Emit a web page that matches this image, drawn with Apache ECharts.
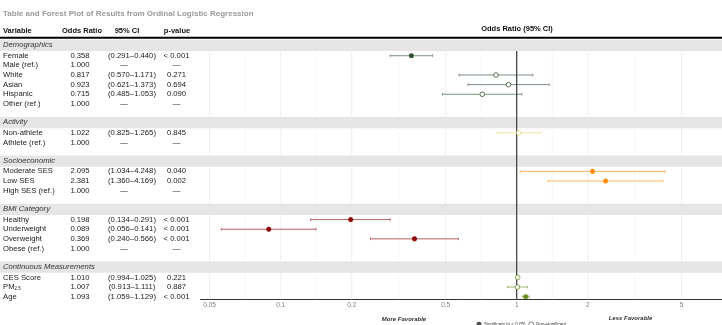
<!DOCTYPE html>
<html>
<head>
<meta charset="utf-8">
<title>Forest plot</title>
<script src="https://cdn.jsdelivr.net/npm/echarts@6/dist/echarts.min.js"></script>
<style>
  html, body { margin: 0; padding: 0; background: #fff; }
  #chart { width: 722px; height: 325px; }
</style>
</head>
<body>
<div id="chart"></div>
<script>
const groups = ['Demographics', 'Activity', 'Socioeconomic', 'BMI Category', 'Continuous Measurements']
const groupColors = ['#2F4F2F', '#E6D76E', '#FF8C00', '#8B0000', '#6B8E23']

const variables = ['Female', 'Male (ref.)', 'White', 'Asian', 'Hispanic', 'Other (ref.)',
  'Non-athlete', 'Athlete (ref.)',
  'Moderate SES', 'Low SES', 'High SES (ref.)',
  'Healthy', 'Underweight', 'Overweight', 'Obese (ref.)',
  'CES Score', 'PM2.5', 'Age']
const groupOf = [0, 0, 0, 0, 0, 0, 1, 1, 2, 2, 2, 3, 3, 3, 3, 4, 4, 4]
const oddsRatio = [0.358, 1.000, 0.817, 0.923, 0.715, 1.000, 1.022, 1.000, 2.095, 2.381, 1.000,
  0.198, 0.089, 0.369, 1.000, 1.010, 1.007, 1.093]
const ciLow = [0.291, null, 0.570, 0.621, 0.485, null, 0.825, null, 1.034, 1.360, null,
  0.134, 0.056, 0.240, null, 0.994, 0.913, 1.059]
const ciHigh = [0.440, null, 1.171, 1.373, 1.053, null, 1.265, null, 4.248, 4.169, null,
  0.291, 0.141, 0.566, null, 1.025, 1.111, 1.129]
const pValues = ['< 0.001', '—', '0.271', '0.694', '0.090', '—', '0.845', '—', '0.040', '0.002', '—',
  '< 0.001', '< 0.001', '< 0.001', '—', '0.221', '0.887', '< 0.001']

const tickValues = [0.05, 0.1, 0.2, 0.5, 1, 2, 5]
const minorValues = [0.0707, 0.1414, 0.3162, 0.7071, 1.4142, 3.1623]
const referenceOR = 1

const fontFamily = '"Liberation Sans", Arial, Helvetica, sans-serif'

function rgba(hex, a) {
  const n = parseInt(hex.slice(1), 16)
  return `rgba(${n >> 16},${(n >> 8) & 255},${n & 255},${a})`
}

// row index of each band / variable: band, items, blank spacer
const rowOf = []
const bandRows = []
let r = 0
groups.forEach((g, gi) => {
  bandRows.push(r++)
  groupOf.forEach((gg, vi) => { if (gg === gi) rowOf[vi] = r++ })
  r++
})

const ciText = i => ciLow[i] == null ? '—' : `(${ciLow[i].toFixed(3)}–${ciHigh[i].toFixed(3)})`

const barData = []
variables.forEach((v, i) => {
  if (ciLow[i] == null) return
  const sig = ciLow[i] > 1 || ciHigh[i] < 1 ? 1 : 0
  barData.push([ciLow[i], ciHigh[i], oddsRatio[i], rowOf[i], groupOf[i], sig])
})

const chart = echarts.init(document.getElementById('chart'), null, { renderer: 'canvas' })

const textBase = { fill: '#1a1a1a', fontSize: 7.7, fontFamily: fontFamily, verticalAlign: 'middle' }
const headStyle = { fontSize: 7.5, fontWeight: 'bold', fontFamily: fontFamily, fill: '#111', align: 'center', verticalAlign: 'middle' }
const sideStyle = { fontSize: 6, fontWeight: 'bold', fontStyle: 'italic', fontFamily: fontFamily, fill: '#333', align: 'center', verticalAlign: 'middle' }

const option = {
  animation: false,
  backgroundColor: '#fff',
  title: {
    text: 'Table and Forest Plot of Results from Ordinal Logistic Regression',
    left: 3, top: 9.5, padding: 0,
    textStyle: { fontSize: 8, fontWeight: 'bold', color: '#9a9a9a', fontFamily: fontFamily }
  },
  legend: {
    left: 471.5, top: 316.5,
    itemWidth: 5, itemHeight: 5, itemGap: 3,
    selectedMode: false,
    textStyle: { fontSize: 4.5, color: '#333', fontFamily: fontFamily, padding: [0, 0, 0, -2.5] },
    data: [
      { name: 'Significant (p < 0.05)', icon: 'circle', itemStyle: { color: '#222', borderWidth: 0 } },
      { name: 'Non-significant', icon: 'circle', itemStyle: { color: '#fff', borderColor: '#222', borderWidth: 0.7 } }
    ]
  },
  grid: [
    { left: 0, right: 0, top: 26.78, height: 279.56 },
    { left: 200.5, right: 0, top: 51, height: 248.3 }
  ],
  xAxis: [
    { type: 'value', gridIndex: 0, min: 0, max: 722, show: false },
    {
      type: 'log', logBase: 10, gridIndex: 1, min: 0.04573, max: 7.413,
      axisLine: { show: true, lineStyle: { color: '#333', width: 1 } },
      axisTick: { show: false },
      splitLine: { show: false },
      minorTick: { show: false },
      minorSplitLine: { show: false },
      axisLabel: {
        customValues: tickValues,
        formatter: v => String(+Number(v).toPrecision(3)),
        fontSize: 6.5, color: '#808080', margin: 2.5, fontFamily: fontFamily
      }
    }
  ],
  yAxis: [
    { type: 'value', gridIndex: 0, inverse: true, min: -2, max: 27, show: false },
    { type: 'value', gridIndex: 1, inverse: true, min: 0.51, max: 26.27, show: false }
  ],
  graphic: [
    { type: 'line', shape: { x1: 0, y1: 37.7, x2: 722, y2: 37.7 }, style: { stroke: '#000', lineWidth: 2 } },
    { type: 'text', x: 3, y: 31, style: Object.assign({}, headStyle, { text: 'Variable', align: 'left' }) },
    { type: 'text', x: 82, y: 31, style: Object.assign({}, headStyle, { text: 'Odds Ratio' }) },
    { type: 'text', x: 127, y: 31, style: Object.assign({}, headStyle, { text: '95% CI' }) },
    { type: 'text', x: 177, y: 31, style: Object.assign({}, headStyle, { text: 'p-value' }) },
    { type: 'text', x: 517, y: 29, style: Object.assign({}, headStyle, { text: 'Odds Ratio (95% CI)' }) },
    { type: 'text', x: 404, y: 319.5, style: Object.assign({}, sideStyle, { text: 'More Favorable' }) },
    { type: 'text', x: 630.5, y: 318.5, style: Object.assign({}, sideStyle, { text: 'Less Favorable' }) }
  ],
  series: [
    {
      // panel gridlines at major and minor breaks
      type: 'custom', xAxisIndex: 1, yAxisIndex: 1, silent: true,
      data: tickValues.map(v => [v, 1, 1]).concat(minorValues.map(v => [v, 1, 0])),
      encode: { x: 0, y: 1 },
      renderItem: (params, api) => {
        const cs = params.coordSys
        const x = api.coord([api.value(0), 1])[0]
        return {
          type: 'line',
          shape: { x1: x, y1: cs.y, x2: x, y2: cs.y + cs.height },
          style: { stroke: api.value(2) ? '#ebebeb' : '#f2f2f2', lineWidth: api.value(2) ? 0.8 : 0.6 }
        }
      }
    },
    {
      // grey group bands across table and panel
      type: 'custom', xAxisIndex: 0, yAxisIndex: 0, silent: true,
      data: bandRows.map(b => [0, b]),
      encode: { x: 0, y: 1 },
      renderItem: (params, api) => {
        const b = api.value(1)
        const p1 = api.coord([0, b - 0.65])
        const p2 = api.coord([722, b + 0.52])
        return { type: 'rect', shape: { x: p1[0], y: p1[1], width: p2[0] - p1[0], height: p2[1] - p1[1] }, style: { fill: '#e5e5e5' } }
      }
    },
    {
      // group labels
      type: 'custom', xAxisIndex: 0, yAxisIndex: 0, silent: true,
      data: bandRows.map(b => [3, b]),
      encode: { x: 0, y: 1 },
      renderItem: (params, api) => {
        const p = api.coord([3, api.value(1) - 0.12])
        return {
          type: 'text', x: p[0], y: p[1],
          style: Object.assign({}, textBase, { text: groups[params.dataIndex], fontStyle: 'italic', fill: '#333' })
        }
      }
    },
    {
      // table cells
      type: 'custom', xAxisIndex: 0, yAxisIndex: 0, silent: true,
      data: variables.map((v, i) => [0, rowOf[i]]),
      encode: { x: 0, y: 1 },
      renderItem: (params, api) => {
        const i = params.dataIndex
        const y = api.coord([0, rowOf[i]])[1]
        const cell = (x, text, align, extra) => ({
          type: 'text', x: api.coord([x, 0])[0], y: y,
          style: Object.assign({}, textBase, { text: text, align: align }, extra || {})
        })
        let name = cell(3, variables[i], 'left')
        if (variables[i] === 'PM2.5') {
          name = cell(3, '{a|PM}{b|2.5}', 'left', {
            rich: {
              a: { fontSize: 7.7, fontFamily: fontFamily, fill: '#1a1a1a', lineHeight: 9 },
              b: { fontSize: 4.5, fontFamily: fontFamily, fill: '#1a1a1a', lineHeight: 9, verticalAlign: 'bottom', padding: [3, 0, 0, 0] }
            }
          })
        }
        const ref = ciLow[i] == null
        return {
          type: 'group',
          children: [
            name,
            cell(80, oddsRatio[i].toFixed(3), 'center'),
            cell(ref ? 124 : 132, ciText(i), 'center'),
            cell(176.5, pValues[i], 'center')
          ]
        }
      }
    },
    {
      // reference line at OR = 1
      type: 'custom', xAxisIndex: 1, yAxisIndex: 1, silent: true,
      data: [[referenceOR, 1]],
      encode: { x: 0, y: 1 },
      renderItem: (params, api) => {
        const cs = params.coordSys
        const x = api.coord([api.value(0), 1])[0]
        return { type: 'line', shape: { x1: x, y1: cs.y, x2: x, y2: cs.y + cs.height }, style: { stroke: '#3a3a3a', lineWidth: 1.2 } }
      }
    },
    {
      // confidence intervals and point estimates
      type: 'custom', xAxisIndex: 1, yAxisIndex: 1, clip: true,
      data: barData,
      encode: { x: [0, 1, 2], y: 3 },
      renderItem: (params, api) => {
        const row = api.value(3)
        const lo = api.coord([api.value(0), row])
        const hi = api.coord([api.value(1), row])
        const pt = api.coord([api.value(2), row])
        const color = groupColors[api.value(4)]
        const lineColor = rgba(color, 0.62)
        const sig = api.value(5) === 1
        const cap = 1.4
        return {
          type: 'group',
          children: [
            { type: 'line', shape: { x1: lo[0], y1: lo[1], x2: hi[0], y2: hi[1] }, style: { stroke: lineColor, lineWidth: 1 } },
            { type: 'line', shape: { x1: lo[0], y1: lo[1] - cap, x2: lo[0], y2: lo[1] + cap }, style: { stroke: lineColor, lineWidth: 0.8 } },
            { type: 'line', shape: { x1: hi[0], y1: hi[1] - cap, x2: hi[0], y2: hi[1] + cap }, style: { stroke: lineColor, lineWidth: 0.8 } },
            {
              type: 'circle', shape: { cx: pt[0], cy: pt[1], r: 2.3 },
              style: sig ? { fill: color, stroke: color, lineWidth: 0.5 } : { fill: '#fff', stroke: color, lineWidth: 0.8 }
            }
          ]
        }
      }
    },
    { name: 'Significant (p < 0.05)', type: 'scatter', xAxisIndex: 1, yAxisIndex: 1, data: [] },
    { name: 'Non-significant', type: 'scatter', xAxisIndex: 1, yAxisIndex: 1, data: [] }
  ]
}

chart.setOption(option)
</script>
</body>
</html>
